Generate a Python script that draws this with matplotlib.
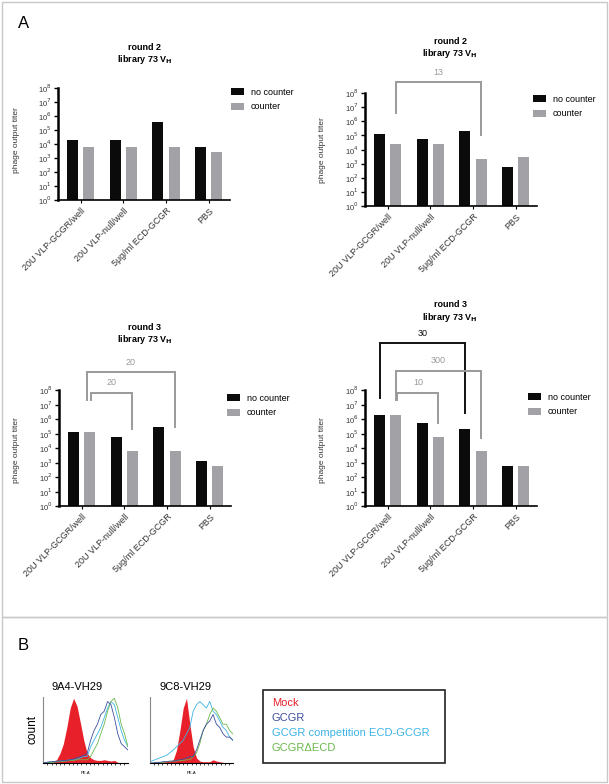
import numpy as np
import matplotlib
matplotlib.use("Agg")
import matplotlib.pyplot as plt
from matplotlib.patches import Rectangle, Patch

plt.rcParams["font.family"] = ["Liberation Sans", "DejaVu Sans"]

W, H = 609, 784

categories = ["20U VLP-GCGR/well", "20U VLP-null/well", "5\u03bcg/ml ECD-GCGR", "PBS"]

# phage output titers
r2a_black = [2e4, 2e4, 4e5, 6e3]
r2a_gray = [6e3, 6e3, 6e3, 2.5e3]
r2b_black = [1.3e5, 6e4, 2e5, 6e2]
r2b_gray = [2.5e4, 2.5e4, 2e3, 3e3]
r3a_black = [1.2e5, 6e4, 3e5, 1.2e3]
r3a_gray = [1.2e5, 6e3, 6e3, 6e2]
r3b_black = [2e6, 5e5, 2e5, 6e2]
r3b_gray = [2e6, 6e4, 6e3, 6e2]

# brackets: (x left, x right, log top, log left foot, log right foot, label, colour)
br_r2b = [(0.19, 2.19, 8.78, 6.58, 5.02, "13", "#9a9a9a")]
br_r3a = [(0.12, 2.19, 9.24, 7.31, 5.45, "20", "#9a9a9a"),
          (0.22, 1.19, 7.80, 7.30, 5.31, "20", "#9a9a9a")]
br_r3b = [(-0.19, 1.81, 11.24, 7.45, 6.41, "30", "#111111"),
          (0.19, 2.19, 9.31, 7.30, 4.69, "300", "#9a9a9a"),
          (0.23, 1.19, 7.80, 7.30, 5.72, "10", "#9a9a9a")]

# flow histograms (normalised counts on a 0..1 PE-A grid)
fx = np.linspace(0, 1, 26)
h1_mock = [0, .01, .01, .02, .05, .15, .3, .55, .85, 1.0, .88, .62, .35, .15, .08, .05, .04, .04, .05, .04, .03, .04, .01, 0, 0, 0]
h1_gcgr = [0, .01, .02, .02, .03, .03, .04, .04, .05, .06, .08, .1, .12, .15, .35, .5, .6, .75, .8, .95, .9, .7, .45, .3, .25, .2]
h1_comp = [0, .01, .01, .02, .02, .03, .03, .04, .05, .05, .06, .08, .1, .1, .25, .35, .45, .55, .7, .85, .95, .9, .7, .5, .35, .25]
h1_decd = [0, 0, .01, .01, .02, .02, .03, .03, .04, .04, .05, .05, .05, .05, .1, .2, .3, .45, .6, .8, .95, 1.0, .85, .6, .45, .25]
h2_mock = [0, 0, .01, .01, .02, .02, .03, .05, .2, .5, .85, 1.0, .6, .25, .08, .03, .02, .02, .02, .05, .03, .02, .01, 0, 0, 0]
h2_gcgr = [0, 0, .01, .01, .02, .02, .03, .03, .04, .05, .06, .08, .1, .1, .2, .35, .5, .6, .65, .75, .6, .55, .45, .4, .4, .35]
h2_comp = [.02, .04, .06, .08, .1, .12, .16, .2, .25, .3, .35, .45, .55, .8, .9, .95, .9, .85, .95, .8, .75, .65, .55, .5, .4, .35]
h2_decd = [0, 0, .01, .01, .01, .02, .02, .03, .03, .04, .04, .05, .05, .1, .15, .3, .5, .6, .75, .85, .8, .7, .6, .6, .5, .45]

BLACK = "#0b0b0b"
GRAY = "#a2a2a6"


def rect(x0, y0, x1, y1):
    return [x0 / W, 1 - y1 / H, (x1 - x0) / W, (y1 - y0) / H]


fig = plt.figure(figsize=(W / 100, H / 100), dpi=100)

# panel frames
fig.add_artist(Rectangle((2 / W, 1 - 617 / H), 605 / W, 615 / H, transform=fig.transFigure,
                         fill=False, edgecolor="#c8c8c8", lw=1))
fig.add_artist(Rectangle((2 / W, 1 - 782 / H), 605 / W, 165 / H, transform=fig.transFigure,
                         fill=False, edgecolor="#c8c8c8", lw=1))
fig.text(18 / W, 1 - 24 / H, "A", fontsize=12, va="center")
fig.text(18 / W, 1 - 645 / H, "B", fontsize=12, va="center")


def bar_panel(box, black, gray, brackets, title, title_xy, ylab_xy, leg_xy):
    ax = fig.add_axes(rect(*box))
    x = np.arange(len(categories))
    ax.bar(x - 0.19, black, 0.26, color=BLACK, label="no counter")
    ax.bar(x + 0.19, gray, 0.26, color=GRAY, label="counter")
    ax.set_yscale("log")
    ax.set_ylim(1, 1e8)
    ax.set_xlim(-0.53, 3.5)
    ax.set_yticks([10.0 ** k for k in range(9)])
    ax.set_yticklabels(["10$^{%d}$" % k for k in range(9)], fontsize=5.5, color="#333333")
    ax.set_xticks(x)
    ax.set_xticklabels(categories, rotation=45, ha="right", rotation_mode="anchor",
                       fontsize=6.5, color="#333333")
    for s in ["top", "right"]:
        ax.spines[s].set_visible(False)
    ax.spines["left"].set_linewidth(1.8)
    ax.spines["bottom"].set_linewidth(1.2)
    ax.tick_params(axis="y", which="major", length=3, width=1, pad=1.5)
    ax.tick_params(axis="y", which="minor", length=1.5, width=0.6)
    ax.tick_params(axis="x", length=2.5, width=0.8, pad=2)
    for xl, xr, top, lf, rf, lab, col in brackets:
        ax.plot([xl, xl, xr, xr], [10 ** lf, 10 ** top, 10 ** top, 10 ** rf],
                color=col, lw=1.4, clip_on=False, solid_joinstyle="miter")
        ax.text((xl + xr) / 2, 10 ** (top + 0.38), lab, color=col, fontsize=6.5,
                ha="center", va="bottom", clip_on=False)
    fig.text(title_xy[0] / W, 1 - title_xy[1] / H, title, fontsize=6.5, fontweight="bold",
             ha="center", va="center")
    fig.text(title_xy[0] / W, 1 - (title_xy[1] + 12) / H, "library 73 V$_\\mathbf{H}$",
             fontsize=6.5, fontweight="bold", ha="center", va="center")
    fig.text(ylab_xy[0] / W, 1 - ylab_xy[1] / H, "phage output titer", fontsize=6,
             rotation=90, ha="center", va="center", color="#333333")
    ax.legend(loc="upper left", bbox_to_anchor=(leg_xy[0] / W, 1 - leg_xy[1] / H),
              bbox_transform=fig.transFigure, frameon=False, fontsize=6.5,
              handlelength=1.4, handleheight=0.8, handletextpad=0.8, labelspacing=0.6,
              borderpad=0, borderaxespad=0)
    return ax


bar_panel((58, 88, 230, 200), r2a_black, r2a_gray, [], "round 2", (145, 48), (17, 140), (231, 88))
bar_panel((365, 93, 537, 206), r2b_black, r2b_gray, br_r2b, "round 2", (450, 41), (322, 150), (533, 95))
bar_panel((59, 390, 231, 506), r3a_black, r3a_gray, br_r3a, "round 3", (145, 327), (17, 450), (227, 394))
bar_panel((365, 390, 537, 506), r3b_black, r3b_gray, br_r3b, "round 3", (450, 305), (323, 450), (528, 393))

# panel B: flow cytometry overlays
MOCK_C, GCGR_C, COMP_C, DECD_C = "#e8202a", "#3c4f9e", "#3db4e5", "#6cb84a"


def hist_panel(box, mock, gcgr, comp, decd, title, tx):
    ax = fig.add_axes(rect(*box))
    ax.fill_between(fx, 0, mock, color=MOCK_C, lw=0)
    ax.plot(fx, comp, color=COMP_C, lw=0.6)
    ax.plot(fx, decd, color=DECD_C, lw=0.6)
    ax.plot(fx, gcgr, color=GCGR_C, lw=0.6)
    ax.set_xlim(0, 1)
    ax.set_ylim(0, 1.02)
    ax.set_yticks([])
    ax.set_xticks(np.linspace(0.05, 0.95, 19))
    ax.set_xticklabels([])
    ax.tick_params(axis="x", length=1.5, width=0.5)
    for s in ["top", "right"]:
        ax.spines[s].set_visible(False)
    ax.spines["left"].set_color("#888888")
    ax.spines["left"].set_linewidth(0.8)
    ax.spines["bottom"].set_linewidth(0.8)
    ax.set_xlabel("PE-A", fontsize=3, labelpad=1)
    fig.text(tx / W, 1 - 687 / H, title, fontsize=8, ha="center", va="center")


hist_panel((43, 697, 128, 763), h1_mock, h1_gcgr, h1_comp, h1_decd, "9A4-VH29", 77)
hist_panel((150, 697, 233, 763), h2_mock, h2_gcgr, h2_comp, h2_decd, "9C8-VH29", 185)
fig.text(32 / W, 1 - 730 / H, "count", fontsize=8.5, rotation=90, ha="center", va="center")

fig.add_artist(Rectangle((263 / W, 1 - 763 / H), 182 / W, 73 / H, transform=fig.transFigure,
                         fill=False, edgecolor="#222222", lw=1.2))
leg_items = [("Mock", MOCK_C), ("GCGR", GCGR_C), ("GCGR competition ECD-GCGR", COMP_C),
             ("GCGR\u0394ECD", DECD_C)]
for i, (lab, col) in enumerate(leg_items):
    fig.text(272 / W, 1 - (703 + 15 * i) / H, lab, color=col, fontsize=8, va="center")

fig.savefig("out.png", dpi=100)
